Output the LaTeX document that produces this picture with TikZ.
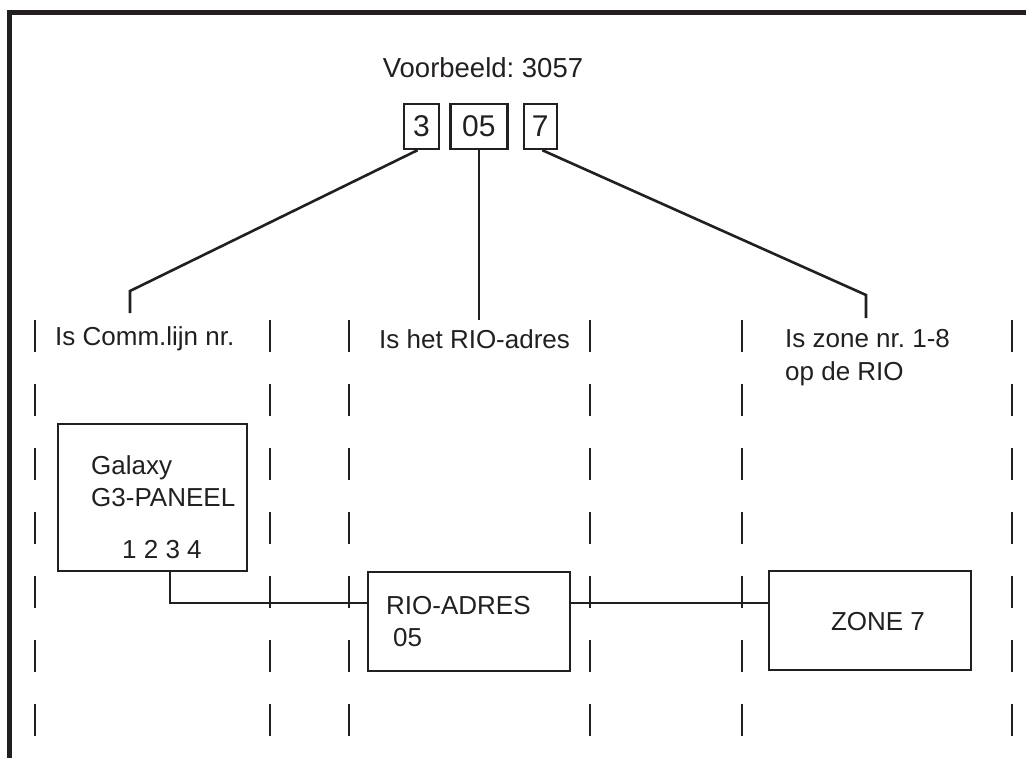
\documentclass[tikz,border=0pt]{standalone}
\usepackage{fontspec}
\setmainfont{Liberation Sans}
\usepackage{xcolor}
\usetikzlibrary{positioning}
\definecolor{ink}{HTML}{231F20}
\frenchspacing

\begin{document}
\begin{tikzpicture}[x=1pt, y=-1pt, color=ink,
  box/.style={draw, line width=2.8pt, inner sep=0pt},
  digit/.style={draw, line width=2.4pt, minimum height=45pt, inner sep=0pt,
    font=\fontsize{30}{34}\selectfont},
  lbl/.style={inner sep=0pt, font=\fontsize{26}{32.5}\selectfont, align=left},
  wire/.style={line width=2.6pt},
  divider/.style={line width=2.6pt, dash pattern=on 32pt off 32pt}]
  \useasboundingbox (0,0) rectangle (1026,758);
  % frame, only top and left edge visible
  \draw[line width=5pt] (9.5,758) -- (9.5,12.5) -- (1026,12.5);
  % example code
  \node[inner sep=0pt, anchor=base, font=\fontsize{27.5}{33}\selectfont] (title) at (483,77) {Voorbeeld: 3057};
  \node[digit, minimum width=35pt] (d3) at (421.5,126.5) {3};
  \node[digit, minimum width=57pt, right=9pt of d3] (d05) {05};
  \node[digit, minimum width=33pt, right=14pt of d05] (d7) {7};
  % column dividers
  \foreach \x in {35,270,349,590,742,1012}
    \draw[divider] (\x,320) -- (\x,736);
  % meaning of each part
  \node[lbl, anchor=base west] (comm) at (55,345) {Is Comm.lijn nr.};
  \node[lbl, anchor=base west] (rioadr) at (379,348) {Is het RIO-adres};
  \node[lbl, anchor=north west] (zonenr) at (785,329.5) {Is zone nr. 1-8\\op de RIO};
  \coordinate (k1) at (130,291);
  \coordinate (e1) at (130,313);
  \coordinate (e2) at (480,320);
  \coordinate (k3) at (866,295);
  \coordinate (e3) at (866,318);
  \draw[wire] ([xshift=-4pt]d3.south) -- (k1) -- (e1);
  \draw[wire] (d05.south) -- (d05.south |- e2);
  \draw[wire] ([xshift=2pt]d7.south) -- (k3) -- (e3);
  % panel, RIO and zone
  \node[box, minimum width=189pt, minimum height=147pt] (gal) at (152.5,497.5) {};
  \node[lbl, anchor=north west] (galtxt) at (91,455) {Galaxy\\G3-PANEEL};
  \node[lbl, anchor=base west] (ports) at (122,558) {1 2 3 4};
  \node[box, minimum width=202pt, minimum height=99pt] (rio) at (469,621.5) {};
  \node[lbl, anchor=base west] (riotxt) at (386,614) {RIO-ADRES};
  \node[lbl, anchor=base west] (rionum) at (393,646) {05};
  \node[box, minimum width=202pt, minimum height=99pt] (zone) at (870,620.5) {};
  \node[lbl] (zonetxt) at (878,622) {ZONE 7};
  \draw[wire] ([xshift=17.5pt]gal.south) |- ([yshift=18.5pt]rio.west);
  \draw[wire] ([yshift=18.5pt]rio.east) -- ([yshift=18.5pt]rio.east -| zone.west);
\end{tikzpicture}
\end{document}
